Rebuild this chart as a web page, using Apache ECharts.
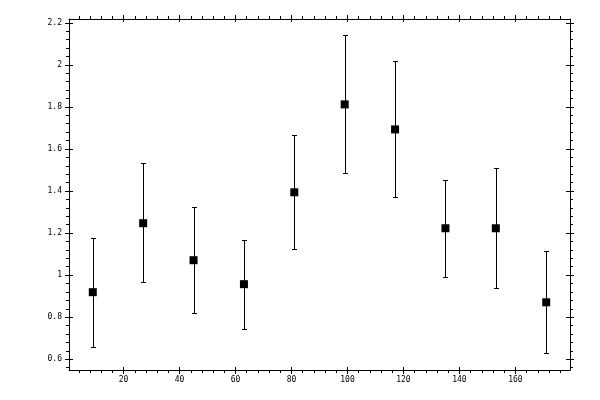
<!DOCTYPE html>
<html>
<head>
<meta charset="utf-8">
<script src="https://cdn.jsdelivr.net/npm/echarts@6/dist/echarts.min.js"></script>
<style>html,body{margin:0;padding:0;background:#fff}#c{width:600px;height:400px}</style>
</head>
<body>
<div id="c"></div>
<script>
var xValues = [9, 27, 45, 63, 81, 99, 117, 135, 153, 171];
var yValues = [0.919, 1.247, 1.071, 0.957, 1.394, 1.812, 1.693, 1.223, 1.223, 0.871];
var yUpper  = [1.175, 1.532, 1.323, 1.166, 1.665, 2.140, 2.017, 1.451, 1.509, 1.115];
var yLower  = [0.657, 0.966, 0.819, 0.743, 1.123, 1.484, 1.370, 0.990, 0.938, 0.629];
var xMajorTicks = [20, 40, 60, 80, 100, 120, 140, 160];
var yMajorTicks = [0.6, 0.8, 1, 1.2, 1.4, 1.6, 1.8, 2, 2.2];
var xMinorTicks = [];
for (var i = 4; i < 180; i += 4) xMinorTicks.push(i);
var yMinorTicks = [];
for (var j = 14; j <= 55; j++) yMinorTicks.push(Math.round(j * 4) / 100);

var X_MIN = 0.5, X_MAX = 179.5, Y_MIN = 0.549, Y_MAX = 2.218;

function makeAxis(kind, position, opts) {
  var isX = kind === 'x';
  return {
    type: 'value',
    gridIndex: 0,
    position: position,
    min: isX ? X_MIN : Y_MIN,
    max: isX ? X_MAX : Y_MAX,
    splitLine: { show: false },
    axisLine: { show: !!opts.line, onZero: false, lineStyle: { color: '#000', width: 1 } },
    axisTick: {
      show: !!opts.ticks,
      inside: !!opts.inside,
      length: opts.len || 4,
      customValues: opts.ticks || [],
      lineStyle: { color: '#000', width: 1 }
    },
    axisLabel: opts.labels ? {
      show: true,
      customValues: opts.labels,
      margin: isX ? 6 : 7,
      color: '#000',
      fontFamily: 'DejaVu Sans Mono',
      fontSize: 8,
      formatter: function (v) { return String(Math.round(v * 100) / 100); }
    } : { show: false }
  };
}

var xAxes = [
  makeAxis('x', 'bottom', { line: true, ticks: xMajorTicks, len: 4, labels: xMajorTicks }),
  makeAxis('x', 'bottom', { ticks: xMajorTicks, inside: true, len: 3 }),
  makeAxis('x', 'bottom', { ticks: xMinorTicks, len: 3 }),
  makeAxis('x', 'top', { line: true, ticks: xMajorTicks, len: 4 }),
  makeAxis('x', 'top', { ticks: xMajorTicks, inside: true, len: 3 }),
  makeAxis('x', 'top', { ticks: xMinorTicks, len: 3 })
];
var yAxes = [
  makeAxis('y', 'left', { line: true, ticks: yMajorTicks, len: 4, labels: yMajorTicks }),
  makeAxis('y', 'left', { ticks: yMajorTicks, inside: true, len: 4 }),
  makeAxis('y', 'left', { ticks: yMinorTicks, len: 3 }),
  makeAxis('y', 'right', { line: true, ticks: yMajorTicks, len: 4 }),
  makeAxis('y', 'right', { ticks: yMajorTicks, inside: true, len: 4 }),
  makeAxis('y', 'right', { ticks: yMinorTicks, len: 3 })
];

var errData = xValues.map(function (x, k) { return [x, yLower[k], yUpper[k]]; });
var ptData = xValues.map(function (x, k) { return [x, yValues[k]]; });

var chart = echarts.init(document.getElementById('c'), null, { renderer: 'canvas' });
chart.setOption({
  animation: false,
  backgroundColor: '#fff',
  grid: { left: 69, right: 30, top: 19, bottom: 30 },
  xAxis: xAxes,
  yAxis: yAxes,
  series: [
    {
      type: 'custom',
      xAxisIndex: 0,
      yAxisIndex: 0,
      data: errData,
      renderItem: function (params, api) {
        var lo = api.coord([api.value(0), api.value(1)]);
        var hi = api.coord([api.value(0), api.value(2)]);
        var cx = Math.round(lo[0]) + 0.5;
        var yl = Math.round(lo[1]) + 0.5;
        var yh = Math.round(hi[1]) + 0.5;
        var w = 2.5;
        var st = { stroke: '#000', lineWidth: 1 };
        return {
          type: 'group',
          children: [
            { type: 'line', shape: { x1: cx, y1: yl, x2: cx, y2: yh }, style: st },
            { type: 'line', shape: { x1: cx - w, y1: yl, x2: cx + w, y2: yl }, style: st },
            { type: 'line', shape: { x1: cx - w, y1: yh, x2: cx + w, y2: yh }, style: st }
          ]
        };
      },
      z: 2
    },
    {
      type: 'scatter',
      xAxisIndex: 0,
      yAxisIndex: 0,
      data: ptData,
      symbol: 'rect',
      symbolSize: 8,
      itemStyle: { color: '#000', opacity: 1 },
      z: 3
    }
  ]
});
</script>
</body>
</html>
